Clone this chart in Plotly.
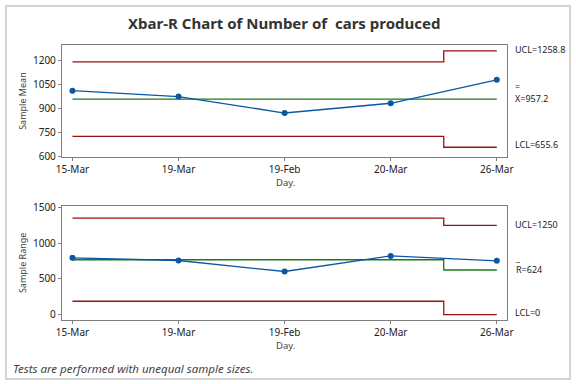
import plotly.graph_objects as go

days = ["15-Mar", "19-Mar", "19-Feb", "20-Mar", "26-Mar"]
sample_mean = [1010, 973, 870, 931, 1078]
sample_range = [794, 757, 603, 821, 753]

# control limits: value for the first 4 subgroups, value for the last one
mean_ucl = [1190, 1258.8]
mean_cl = [957.2, 957.2]
mean_lcl = [724.4, 655.6]
range_ucl = [1350, 1250]
range_cl = [768, 624]
range_lcl = [186, 0]

xpos = list(range(1, len(days) + 1))
step_x = [xpos[0], (xpos[-2] + xpos[-1]) / 2, xpos[-1]]

RED = "#9b1111"
GREEN = "#1a7a1a"
BLUE = "#0b57a4"
GRAY = "#7f7f7f"
FONT = "Noto Sans"

fig = go.Figure()

def add_limits(vals, color, xa, ya):
    fig.add_trace(go.Scatter(x=step_x, y=[vals[0], vals[1], vals[1]], mode="lines",
                             line=dict(color=color, width=1.3, shape="hv"),
                             xaxis=xa, yaxis=ya, hoverinfo="skip", showlegend=False))

for vals, c in [(mean_ucl, RED), (mean_lcl, RED), (mean_cl, GREEN)]:
    add_limits(vals, c, "x", "y")
for vals, c in [(range_ucl, RED), (range_lcl, RED), (range_cl, GREEN)]:
    add_limits(vals, c, "x2", "y2")

fig.add_trace(go.Scatter(x=xpos, y=sample_mean, mode="lines+markers",
                         line=dict(color=BLUE, width=1.3), marker=dict(size=6, color=BLUE),
                         xaxis="x", yaxis="y", showlegend=False))
fig.add_trace(go.Scatter(x=xpos, y=sample_range, mode="lines+markers",
                         line=dict(color=BLUE, width=1.3), marker=dict(size=6, color=BLUE),
                         xaxis="x2", yaxis="y2", showlegend=False))

axis_common = dict(showline=True, linecolor=GRAY, linewidth=1, mirror=True,
                   ticks="outside", ticklen=3, tickcolor=GRAY, showgrid=False,
                   zeroline=False, tickfont=dict(size=10, color="#222", family=FONT))

fig.update_layout(
    width=576, height=384, margin=dict(l=0, r=0, t=0, b=0),
    paper_bgcolor="white", plot_bgcolor="white",
    font=dict(family=FONT, color="#333"),
    xaxis=dict(domain=[0.099, 0.889], anchor="y", range=[0.9, 5.1],
               tickvals=xpos, ticktext=days, **axis_common),
    yaxis=dict(domain=[0.594, 0.896], anchor="x", range=[592, 1297],
               tickvals=[600, 750, 900, 1050, 1200], **axis_common),
    xaxis2=dict(domain=[0.099, 0.889], anchor="y2", range=[0.9, 5.1],
                tickvals=xpos, ticktext=days, **axis_common),
    yaxis2=dict(domain=[0.159, 0.465], anchor="x2", range=[-72, 1527],
                tickvals=[0, 500, 1000, 1500], **axis_common),
    showlegend=False,
)

def ann(text, x, y, size=10, xanchor="left", color="#222", **kw):
    fig.add_annotation(text=text, x=x / 576, y=1 - y / 384, xref="paper", yref="paper",
                       showarrow=False, xanchor=xanchor, yanchor="middle",
                       font=dict(size=size, color=color, family=FONT), **kw)

ann("<b>Xbar-R Chart of Number of  cars produced</b>", 284, 18, size=15,
    xanchor="center", color="#333")
ann("Sample Mean", 17, 98, size=9, xanchor="center", color="#444", textangle=-90)
ann("Sample Range", 17, 264, size=9, xanchor="center", color="#444", textangle=-90)
ann("Day.", 285, 182, size=9.5, xanchor="center", color="#444")
ann("Day.", 285, 350, size=9.5, xanchor="center", color="#444")

LS = 9
RX = 518
ann(f"UCL={mean_ucl[1]:g}", RX, 45, size=LS)
ann(f"=<br>X={mean_cl[1]:g}", RX, 89, size=LS, align="left")
ann(f"LCL={mean_lcl[1]:g}", RX, 143, size=LS)
ann(f"UCL={range_ucl[1]:g}", RX, 225, size=LS)
ann(f"_<br>R={range_cl[1]:g}", RX, 265, size=LS, align="left")
ann(f"LCL={range_lcl[1]:g}", RX, 316, size=LS)

ann("<i>Tests are performed with unequal sample sizes.</i>", 5, 373, size=11.5, color="#444")

fig.add_shape(type="rect", xref="paper", yref="paper", x0=0, y0=0, x1=1, y1=1,
              line=dict(color="#d4d4d4", width=2))

fig.write_html("out.html", config={"displayModeBar": False},
               post_script="document.body.style.margin='0';document.body.style.padding='0';")
